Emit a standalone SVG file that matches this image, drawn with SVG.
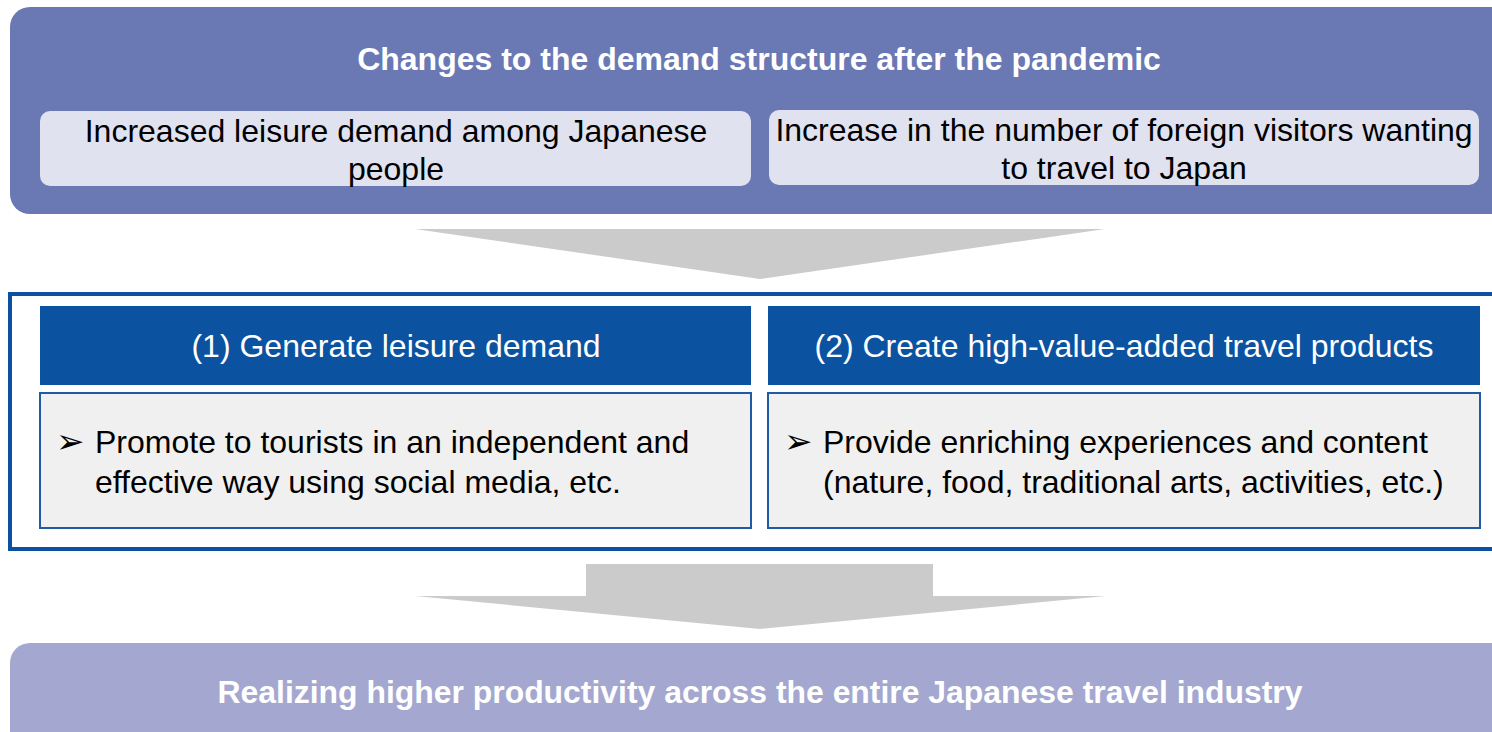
<svg xmlns="http://www.w3.org/2000/svg" width="1492" height="732" viewBox="0 0 1492 732">
<style>
.t{font-family:"Liberation Sans",Arial,sans-serif;}
.title{font-size:32px;font-weight:bold;fill:#fff;text-anchor:middle;}
.sub{font-size:32px;fill:#000;text-anchor:middle;}
.hdr{font-size:32px;fill:#fff;text-anchor:middle;}
.body{font-size:32px;fill:#000;}
.bul{font-size:34px;fill:#000;font-family:"DejaVu Sans",sans-serif;}
.arrow{fill:#CBCBCB;}
.hbox{fill:#0B52A1;}
.bbox{fill:#F0F0F0;stroke:#1F5BA5;stroke-width:2;}
.ibox{fill:#E0E2F0;}
</style>
<rect width="1492" height="732" fill="#fff"/>
<g id="top">
<rect x="10" y="7" width="1520" height="207" rx="20" fill="#6A78B4"/>
<text class="t title" x="759" y="70">Changes to the demand structure after the pandemic</text>
</g>
<g id="demand-japanese">
<rect class="ibox" x="40" y="111" width="711" height="75" rx="10"/>
<text class="t sub" x="396" y="142">Increased leisure demand among Japanese</text>
<text class="t sub" x="396" y="180">people</text>
</g>
<g id="demand-foreign">
<rect class="ibox" x="769" y="110" width="710" height="75" rx="10"/>
<text class="t sub" x="1124" y="141">Increase in the number of foreign visitors wanting</text>
<text class="t sub" x="1124" y="179">to travel to Japan</text>
</g>
<g id="connectors">
<polygon class="arrow" points="415,229 1105,229 760,279"/>
<polygon class="arrow" points="586,564 933,564 933,596 1106,596 760,629 415,596 586,596"/>
</g>
<g id="strategy-frame">
<rect x="10" y="294" width="1530" height="255" fill="none" stroke="#0B51A0" stroke-width="4"/>
</g>
<g id="strategy-1">
<rect class="hbox" x="40" y="306" width="711" height="79"/>
<text class="t hdr" x="396" y="357">(1) Generate leisure demand</text>
<rect class="bbox" x="40" y="393" width="711" height="135"/>
<text class="bul" x="56" y="453">➢</text>
<text class="t body" x="95" y="453">Promote to tourists in an independent and</text>
<text class="t body" x="95" y="493">effective way using social media, etc.</text>
</g>
<g id="strategy-2">
<rect class="hbox" x="768" y="306" width="712" height="79"/>
<text class="t hdr" x="1124" y="357">(2) Create high-value-added travel products</text>
<rect class="bbox" x="768" y="393" width="712" height="135"/>
<text class="bul" x="784" y="453">➢</text>
<text class="t body" x="823" y="453">Provide enriching experiences and content</text>
<text class="t body" x="823" y="493">(nature, food, traditional arts, activities, etc.)</text>
</g>
<g id="bottom">
<rect x="10" y="643" width="1520" height="120" rx="20" fill="#A4A8D0"/>
<text class="t title" x="760" y="703" textLength="1085" lengthAdjust="spacingAndGlyphs">Realizing higher productivity across the entire Japanese travel industry</text>
</g>
</svg>
